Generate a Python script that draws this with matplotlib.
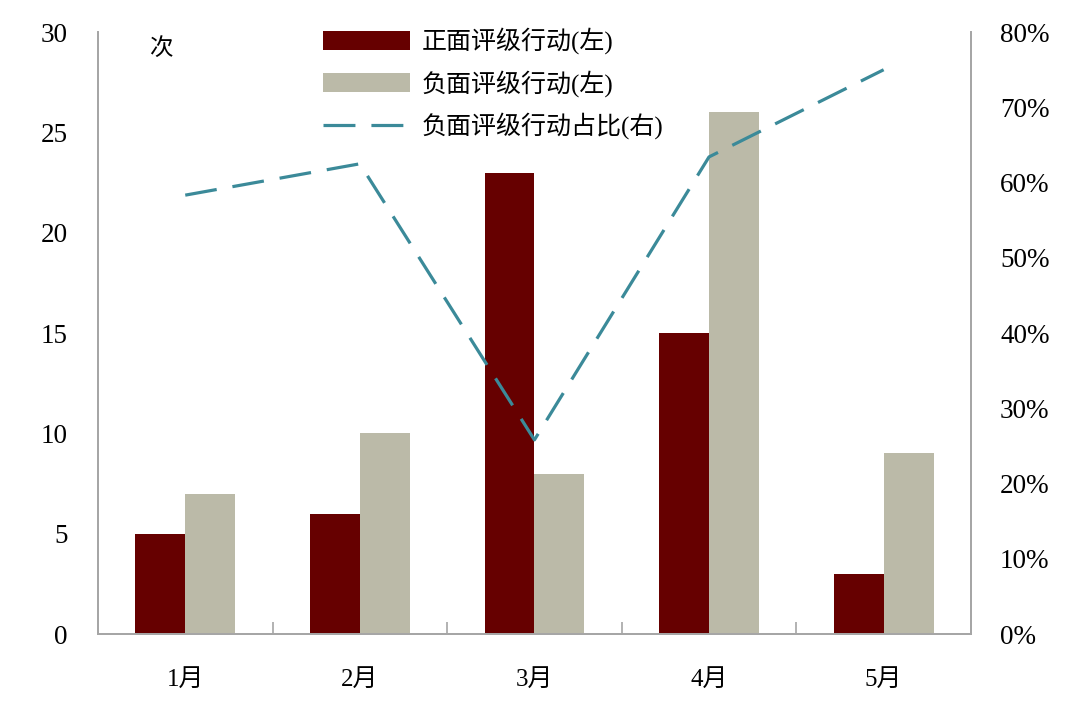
import numpy as np
import matplotlib
matplotlib.use('Agg')
import matplotlib.pyplot as plt
from matplotlib.ticker import FixedLocator

plt.rcParams['font.family'] = ['Liberation Serif', 'Noto Sans CJK SC', 'DejaVu Sans']

months = ['1月', '2月', '3月', '4月', '5月']
positive = [5, 6, 23, 15, 3]
negative = [7, 10, 8, 26, 9]
neg_share = [7 / 12, 10 / 16, 8 / 31, 26 / 41, 9 / 12]

dark_red = '#660000'
grey = '#bbbaa8'
teal = '#3b8a99'
spine_c = '#a6a6a6'

fig = plt.figure(figsize=(10.8, 7.14), dpi=100)
ax = fig.add_axes([0.0907, 0.112, 0.8083, 0.843])
ax2 = ax.twinx()

x = np.arange(len(months))
w = 0.286
b1 = ax.bar(x - w / 2, positive, w, color=dark_red, label='正面评级行动(左)')
b2 = ax.bar(x + w / 2, negative, w, color=grey, label='负面评级行动(左)')
l1, = ax2.plot(x, neg_share, color=teal, lw=2.3, dashes=(10, 5), label='负面评级行动占比(右)')

ax.set_xlim(-0.5, 4.5)
ax.set_ylim(0, 30)
ax.set_yticks(range(0, 31, 5))
ax2.set_ylim(0, 0.8)
ax2.set_yticks(np.arange(0, 0.81, 0.1))
ax2.set_yticklabels(['%d%%' % round(v * 100) for v in np.arange(0, 0.81, 0.1)])

ax.set_xticks(x)
ax.set_xticklabels(months)
ax.xaxis.set_minor_locator(FixedLocator([0.5, 1.5, 2.5, 3.5]))
ax.tick_params(axis='x', which='major', length=0, pad=25, labelsize=18)
ax.tick_params(axis='x', which='minor', direction='in', length=9, color=spine_c, width=1.2)
ax.tick_params(axis='y', length=0, pad=22, labelsize=19.5)
ax2.tick_params(axis='y', length=0, pad=21, labelsize=19.5)

for a in (ax, ax2):
    a.spines['top'].set_visible(False)
    for s in ('left', 'right', 'bottom'):
        a.spines[s].set_color(spine_c)
        a.spines[s].set_linewidth(1.3)

ax.text(0.058, 0.99, '次', transform=ax.transAxes, fontsize=17, va='top', ha='left')

ax.legend([b1, b2, l1], [b1.get_label(), b2.get_label(), l1.get_label()],
          loc='upper left', bbox_to_anchor=(0.232, 1.045), frameon=False,
          fontsize=18, handlelength=3.5, handleheight=0.8, handletextpad=0.45,
          labelspacing=0.62)

fig.savefig('out.png', dpi=100)
